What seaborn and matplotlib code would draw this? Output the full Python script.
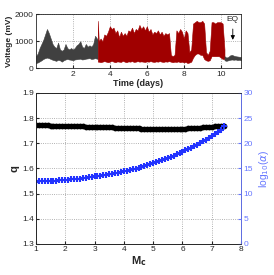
import numpy as np
import pandas as pd
import matplotlib
matplotlib.use("Agg")
import matplotlib.pyplot as plt
import seaborn as sns

# ---- top panel: voltage envelope (time in days, low / high in mV)
pre_t = [0.0, 0.1, 0.2, 0.3, 0.4, 0.5, 0.6, 0.7, 0.8, 0.9, 1.0, 1.1, 1.2, 1.3, 1.4, 1.5, 1.6,
         1.7, 1.8, 1.9, 2.0, 2.1, 2.2, 2.3, 2.4, 2.5, 2.6, 2.7, 2.8, 2.9, 3.0, 3.1, 3.2, 3.35]
pre_low = [200, 220, 260, 300, 350, 380, 400, 380, 350, 320, 300, 280, 320, 300, 250, 300, 330,
           350, 330, 320, 300, 330, 340, 350, 360, 330, 340, 360, 370, 380, 350, 360, 380, 350]
pre_high = [450, 550, 750, 900, 1050, 1250, 1450, 1300, 1100, 900, 800, 750, 950, 700, 650, 700, 900,
            750, 700, 750, 700, 750, 850, 900, 1000, 800, 750, 900, 800, 850, 800, 900, 1200, 1050]

act_t = [3.35, 3.4, 3.5, 3.6, 3.7, 3.8, 3.9, 4.0, 4.1, 4.2, 4.3, 4.4, 4.5, 4.6, 4.7, 4.8, 4.9,
         5.0, 5.1, 5.2, 5.3, 5.4, 5.5, 5.6, 5.7, 5.8, 5.9, 6.0, 6.1, 6.2, 6.3, 6.4, 6.5, 6.6,
         6.7, 6.8, 6.9, 7.0, 7.1, 7.2, 7.3, 7.4, 7.5, 7.6, 7.7, 7.8, 7.9, 8.0, 8.1, 8.2, 8.3,
         8.4, 8.5, 8.6, 8.7, 8.8, 8.9, 9.0, 9.1, 9.2, 9.3, 9.4, 9.5, 9.6, 9.7, 9.8, 9.9, 10.0,
         10.1, 10.2]
act_low = [250, 250, 230, 250, 270, 250, 230, 250, 280, 250, 230, 260, 250, 240, 280, 250, 230,
           260, 250, 270, 240, 250, 270, 250, 260, 250, 240, 260, 250, 270, 250, 240, 260, 250,
           270, 250, 240, 260, 250, 270, 250, 230, 250, 240, 260, 230, 250, 220, 240, 200, 220,
           250, 400, 500, 550, 550, 500, 500, 350, 300, 280, 300, 450, 450, 450, 450, 450, 400,
           350, 350]
act_high = [1750, 1000, 1100, 1000, 1250, 1200, 1350, 1550, 1450, 1500, 1300, 1400, 1150, 1350, 1200, 1300, 1200,
            1400, 1350, 1500, 1300, 1450, 1400, 1600, 1450, 1550, 1400, 1550, 1350, 1450, 1250, 1350, 1300, 1400,
            1250, 1350, 1200, 1300, 1250, 1300, 500, 450, 500, 1400, 1300, 1450, 1350, 1100, 1400, 1300, 600,
            700, 1650, 1700, 1750, 1700, 1700, 1750, 1650, 600, 500, 650, 1700, 1700, 1650, 1700, 1700, 1700,
            1650, 700]

post_t = [10.2, 10.3, 10.4, 10.5, 10.6, 10.7, 10.8, 10.9, 11.0, 11.1]
post_low = [300, 280, 300, 320, 330, 320, 330, 310, 320, 300]
post_high = [450, 400, 420, 480, 500, 470, 450, 440, 430, 420]

# ---- bottom panel: q and log10(alpha) vs Mc
mc = [1.0, 1.1, 1.2, 1.3, 1.4, 1.5, 1.6, 1.7, 1.8, 1.9, 2.0, 2.1, 2.2, 2.3, 2.4, 2.5, 2.6,
      2.7, 2.8, 2.9, 3.0, 3.1, 3.2, 3.3, 3.4, 3.5, 3.6, 3.7, 3.8, 3.9, 4.0, 4.1, 4.2, 4.3,
      4.4, 4.5, 4.6, 4.7, 4.8, 4.9, 5.0, 5.1, 5.2, 5.3, 5.4, 5.5, 5.6, 5.7, 5.8, 5.9, 6.0,
      6.1, 6.2, 6.3, 6.4, 6.5, 6.6, 6.7, 6.8, 6.9, 7.0, 7.1, 7.2, 7.3, 7.4]
q = [1.772, 1.772, 1.771, 1.771, 1.771, 1.770, 1.770, 1.770, 1.769, 1.769, 1.769,
     1.768, 1.768, 1.768, 1.767, 1.767, 1.767, 1.766, 1.766, 1.766, 1.765,
     1.765, 1.764, 1.764, 1.764, 1.763, 1.763, 1.762, 1.762, 1.761, 1.761,
     1.760, 1.760, 1.760, 1.759, 1.759, 1.758, 1.758, 1.758, 1.757, 1.757,
     1.757, 1.757, 1.756, 1.756, 1.756, 1.756, 1.757, 1.757, 1.757, 1.758,
     1.758, 1.759, 1.759, 1.760, 1.761, 1.762, 1.763, 1.764, 1.765, 1.766,
     1.767, 1.768, 1.769, 1.770]
log_alpha = [12.40, 12.42, 12.44, 12.46, 12.48, 12.51, 12.54, 12.57, 12.61, 12.65, 12.70,
             12.75, 12.81, 12.87, 12.93, 13.00, 13.07, 13.15, 13.23, 13.31, 13.40,
             13.49, 13.58, 13.68, 13.78, 13.88, 13.98, 14.08, 14.19, 14.30, 14.41,
             14.53, 14.66, 14.80, 14.95, 15.10, 15.26, 15.43, 15.61, 15.80, 16.00,
             16.20, 16.41, 16.62, 16.84, 17.06, 17.29, 17.53, 17.78, 18.04, 18.30,
             18.57, 18.85, 19.14, 19.44, 19.75, 20.07, 20.40, 20.74, 21.09, 21.45,
             21.82, 22.20, 22.70, 23.40]

sns.set_style("ticks")
plt.rcParams['font.family'] = ['Liberation Sans', 'DejaVu Sans']
plt.rcParams['xtick.direction'] = 'in'
plt.rcParams['ytick.direction'] = 'in'
plt.rcParams['xtick.major.size'] = 2
plt.rcParams['ytick.major.size'] = 2

gray = "#404040"
red = "#a00000"
blue = "#2233ff"
axblue = "#6677ff"

fig = plt.figure(figsize=(2.74, 2.75), dpi=100)
ax1 = fig.add_axes([0.131, 0.751, 0.749, 0.198])
ax2 = fig.add_axes([0.131, 0.113, 0.749, 0.549])

# top
for t, lo, hi, c in [(pre_t, pre_low, pre_high, gray), (act_t, act_low, act_high, red),
                     (post_t, post_low, post_high, gray)]:
    ax1.fill_between(t, lo, hi, color=c, lw=0.4, edgecolor=c)
ax1.set_xlim(0, 11.1)
ax1.set_ylim(0, 2000)
ax1.set_xticks([2, 4, 6, 8, 10])
ax1.set_yticks([0, 1000, 2000])
ax1.grid(True, linestyle=':', color='#999999', lw=0.6)
ax1.set_xlabel("Time (days)", fontsize=6.5, fontweight='bold', labelpad=1)
ax1.set_ylabel("Voltage (mV)", fontsize=6, fontweight='bold', labelpad=1)
ax1.tick_params(labelsize=6, pad=1.5)
ax1.annotate("EQ", xy=(10.65, 950), xytext=(10.65, 1800), fontsize=6, ha='center', va='center',
             arrowprops=dict(arrowstyle='-|>', color='black', lw=0.6, mutation_scale=6))

# bottom
df = pd.DataFrame({"Mc": mc, "q": q, "log_alpha": log_alpha})
sns.lineplot(data=df, x="Mc", y="q", ax=ax2, color="black", lw=0, marker='o',
             markersize=4.2, markeredgewidth=0, markerfacecolor="black")
ax2.set_xlim(1, 8)
ax2.set_ylim(1.3, 1.9)
ax2.set_xticks(range(1, 9))
ax2.set_yticks([1.3, 1.4, 1.5, 1.6, 1.7, 1.8, 1.9])
ax2.set_yticklabels(["1.3", "1.4", "1.5", "1.6", "1.7", "1.8", "1.9"])
ax2.grid(True, linestyle=':', color='#999999', lw=0.6)
ax2.set_xlabel("M$_\\mathbf{c}$", fontsize=8, fontweight='bold', labelpad=1)
ax2.set_ylabel("q", fontsize=8, fontweight='bold', labelpad=2)
ax2.tick_params(labelsize=6, pad=1.5)

ax3 = ax2.twinx()
sns.lineplot(data=df, x="Mc", y="log_alpha", ax=ax3, color=blue, lw=0, marker='+',
             markersize=5, markeredgewidth=1.5, markeredgecolor=blue)
ax3.set_ylim(0, 30)
ax3.set_yticks(range(0, 31, 5))
ax3.set_ylabel("log$_{10}$($\\alpha$)", fontsize=7.5, color=axblue, labelpad=3)
ax3.tick_params(axis='y', labelsize=6, colors=axblue, pad=1.5)

for ax in (ax1, ax2, ax3):
    for s in ax.spines.values():
        s.set_linewidth(0.6)
ax3.spines['right'].set_color(axblue)

fig.savefig("out.png", dpi=100)
